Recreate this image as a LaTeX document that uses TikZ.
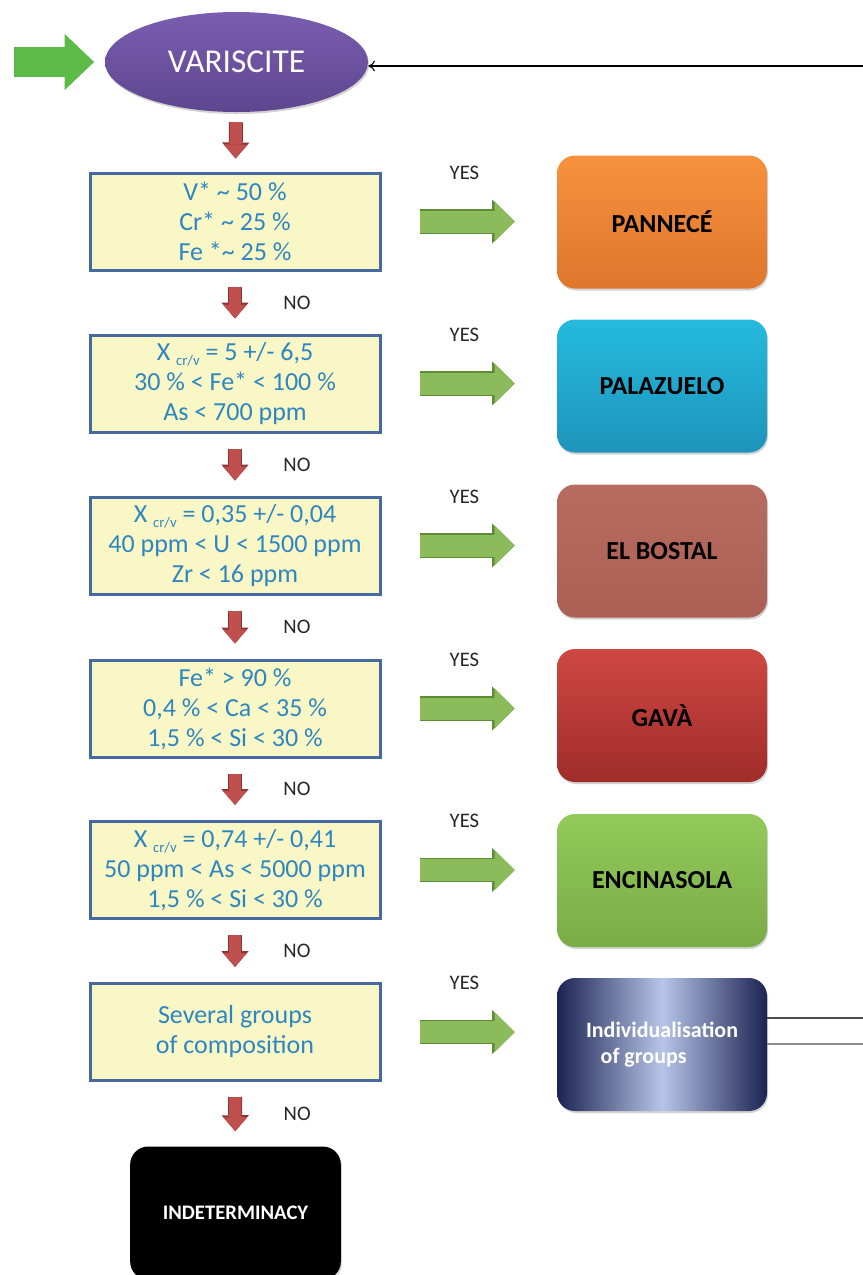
\documentclass[tikz,border=0pt]{standalone}
\usepackage{fontspec}
\setmainfont{Carlito}
\usetikzlibrary{shapes.geometric,arrows.meta,shadings,shadows}

\definecolor{giallo}{RGB}{250,247,198}
\definecolor{bordoblu}{RGB}{70,106,160}
\definecolor{testoblu}{RGB}{46,134,193}
\definecolor{rosso}{RGB}{192,80,77}
\definecolor{rossoscuro}{RGB}{140,52,50}
\definecolor{verde}{RGB}{140,187,92}
\definecolor{verdescuro}{RGB}{96,140,56}
\definecolor{navy}{RGB}{27,35,82}

\newcommand{\xcrv}{X {\fontsize{11}{11}\selectfont\raisebox{-3.5pt}{cr/v}}}

\begin{document}
\begin{tikzpicture}[x=0.75pt, y=-0.75pt,
  cond/.style={rectangle, draw=bordoblu, line width=2.25pt, fill=giallo, minimum width=217.5pt, minimum height=72.75pt, inner sep=0pt, align=center, text=testoblu, font=\fontsize{19.5}{22.5}\selectfont},
  ris/.style={rectangle, rounded corners=13.5pt, minimum width=157.5pt, minimum height=99.75pt, inner sep=0pt, align=center, font=\bfseries\fontsize{19.5}{22}\selectfont, drop shadow={opacity=0.35, shadow xshift=0.8pt, shadow yshift=-1.5pt}},
  lab/.style={font=\fontsize{15.5}{15.5}\selectfont, text=black!85},
  giu/.style={draw=rosso, line width=9pt, -{Triangle[width=18pt, length=10.5pt, line width=0pt]},
    preaction={draw=rossoscuro, line width=10.5pt, -{Triangle[width=20.5pt, length=12pt, line width=0pt]}}},
  dx/.style={draw=verde, line width=16.5pt, -{Triangle[width=30pt, length=15pt, line width=0pt]},
    preaction={draw=verdescuro, line width=18.5pt, -{Triangle[width=33pt, length=17pt, line width=0pt]}}}]

\useasboundingbox (0,0) rectangle (863,1275);

% Nodi
\node[ellipse, minimum width=197.25pt, minimum height=75pt, inner sep=0pt, top color={rgb,255:red,122;green,93;blue,176}, bottom color={rgb,255:red,94;green,70;blue,143}, text=white, font=\fontsize{25}{25}\selectfont, drop shadow={opacity=0.35, shadow xshift=0.8pt, shadow yshift=-1.5pt}] (var) at (236.5,62) {VARISCITE};

\node[cond] (c1) at (235,221.5) {V* \textasciitilde{} 50 \%\\Cr* \textasciitilde{} 25 \%\\Fe *\textasciitilde{} 25 \%};
\node[cond] (c2) at (235,383.5) {\xcrv{} = 5 +/- 6,5\\30 \% < Fe* < 100 \%\\As < 700 ppm};
\node[cond] (c3) at (235,545.5) {\xcrv{} = 0,35 +/- 0,04\\40 ppm < U < 1500 ppm\\Zr < 16 ppm};
\node[cond] (c4) at (235,708.5) {Fe* > 90 \%\\0,4 \% < Ca < 35 \%\\1,5 \% < Si < 30 \%};
\node[cond] (c5) at (235,870) {\xcrv{} = 0,74 +/- 0,41\\50 ppm < As < 5000 ppm\\1,5 \% < Si < 30 \%};
\node[cond] (c6) at (235,1032) {Several groups\\of composition};

\node[ris, top color={rgb,255:red,247;green,146;blue,62}, bottom color={rgb,255:red,222;green,118;blue,44}] (r1) at (662,222) {PANNECÉ};
\node[ris, top color={rgb,255:red,36;green,186;blue,222}, bottom color={rgb,255:red,30;green,148;blue,188}] (r2) at (662,386) {PALAZUELO};
\node[ris, top color={rgb,255:red,184;green,107;blue,95}, bottom color={rgb,255:red,172;green,96;blue,85}] (r3) at (662,551) {EL BOSTAL};
\node[ris, top color={rgb,255:red,206;green,72;blue,66}, bottom color={rgb,255:red,160;green,44;blue,42}] (r4) at (662,715.5) {GAVÀ};
\node[ris, top color={rgb,255:red,146;green,202;blue,90}, bottom color={rgb,255:red,122;green,172;blue,70}] (r5) at (662,880.5) {ENCINASOLA};
\node[ris, left color=navy, right color=navy, middle color={rgb,255:red,183;green,197;blue,232}, text=white, align=left, font=\bfseries\fontsize{16.5}{19.5}\selectfont] (r6) at (662,1044.5) {Individualisation\\\hspace{11pt}of groups};

\node[ris, fill=black, text=white, minimum width=158pt, font=\bfseries\fontsize{15.5}{17}\selectfont] (ind) at (235.5,1213) {INDETERMINACY};

\coordinate (start) at (14,62);
\coordinate (ritorno) at (863,66);
\coordinate (u1) at (863,1018);
\coordinate (u2) at (863,1044);

% Frecce
\draw[draw={rgb,255:red,92;green,186;blue,70}, line width=22.5pt, -{Triangle[width=42pt, length=22pt, line width=0pt]}, shorten >=8pt] (start) -- (var.west);
\draw[-{To[length=5pt, width=8pt]}, line width=0.8pt] (ritorno) -- (ritorno -| var.east);

\draw[giu, shorten <=7.5pt, shorten >=9.75pt] (var) -- (c1);
\draw[giu, shorten <=11.25pt, shorten >=11.25pt] (c1) -- (c2) node[lab, midway, xshift=46.5pt] {NO};
\draw[giu, shorten <=11.25pt, shorten >=11.25pt] (c2) -- (c3) node[lab, midway, xshift=46.5pt] {NO};
\draw[giu, shorten <=11.25pt, shorten >=11.25pt] (c3) -- (c4) node[lab, midway, xshift=46.5pt] {NO};
\draw[giu, shorten <=11.25pt, shorten >=11.25pt] (c4) -- (c5) node[lab, midway, xshift=46.5pt] {NO};
\draw[giu, shorten <=11.25pt, shorten >=11.25pt] (c5) -- (c6) node[lab, midway, xshift=46.5pt] {NO};
\draw[giu, shorten <=11.25pt, shorten >=11.25pt] (c6) -- (ind) node[lab, midway, xshift=46.5pt] {NO};

\draw[dx, shorten <=28.5pt, shorten >=31.5pt] (c1.east) -- (c1.east -| r1.west) node[lab, midway, xshift=-3.5pt, yshift=36.75pt] {YES};
\draw[dx, shorten <=28.5pt, shorten >=31.5pt] (c2.east) -- (c2.east -| r2.west) node[lab, midway, xshift=-3.5pt, yshift=36.75pt] {YES};
\draw[dx, shorten <=28.5pt, shorten >=31.5pt] (c3.east) -- (c3.east -| r3.west) node[lab, midway, xshift=-3.5pt, yshift=36.75pt] {YES};
\draw[dx, shorten <=28.5pt, shorten >=31.5pt] (c4.east) -- (c4.east -| r4.west) node[lab, midway, xshift=-3.5pt, yshift=36.75pt] {YES};
\draw[dx, shorten <=28.5pt, shorten >=31.5pt] (c5.east) -- (c5.east -| r5.west) node[lab, midway, xshift=-3.5pt, yshift=36.75pt] {YES};
\draw[dx, shorten <=28.5pt, shorten >=31.5pt] (c6.east) -- (c6.east -| r6.west) node[lab, midway, xshift=-3.5pt, yshift=36.75pt] {YES};

\draw[draw=black!70, line width=1.5pt] (r6.east |- u1) -- (u1);
\draw[draw=black!45, line width=1.5pt] (r6.east |- u2) -- (u2);

\end{tikzpicture}
\end{document}
